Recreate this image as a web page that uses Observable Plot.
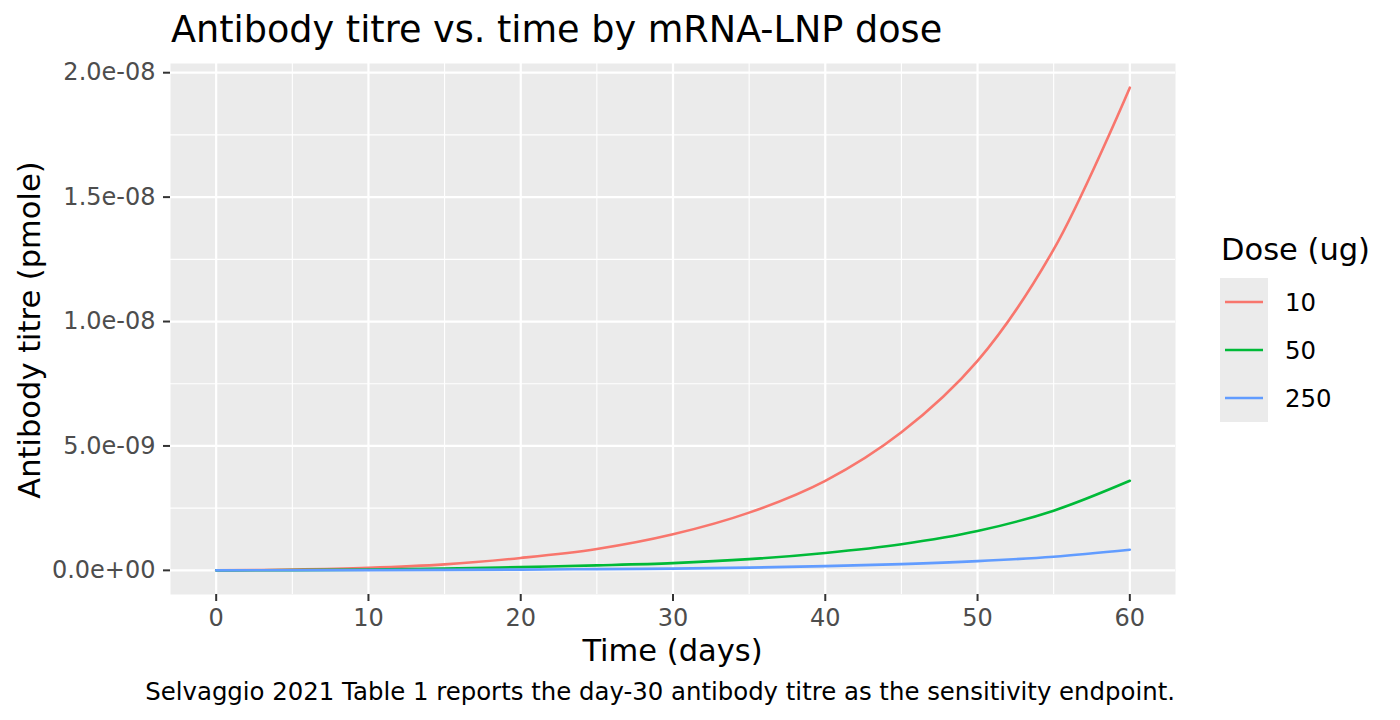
<!DOCTYPE html>
<html><head><meta charset="utf-8">
<script src="https://cdn.jsdelivr.net/npm/d3@7"></script>
<script src="https://cdn.jsdelivr.net/npm/@observablehq/plot@0.6"></script>
<style>
body{margin:0;background:#fff;font-family:"DejaVu Sans",sans-serif}
#chart{width:1400px;height:720px}
</style>
</head><body><div id="chart"></div>
<script>
// ---- data ----
const days = [0, 5, 10, 15, 20, 25, 30, 35, 40, 45, 50, 55, 60];
const doses = ["10", "50", "250"];
const titre10  = [0, 0.03e-9, 0.10e-9, 0.24e-9, 0.50e-9, 0.86e-9, 1.45e-9, 2.32e-9, 3.60e-9, 5.55e-9, 8.42e-9, 12.9e-9, 19.4e-9];
const titre50  = [0, 0.01e-9, 0.03e-9, 0.07e-9, 0.13e-9, 0.20e-9, 0.29e-9, 0.45e-9, 0.70e-9, 1.05e-9, 1.58e-9, 2.40e-9, 3.60e-9];
const titre250 = [0, 0.004e-9, 0.01e-9, 0.02e-9, 0.03e-9, 0.05e-9, 0.07e-9, 0.11e-9, 0.17e-9, 0.25e-9, 0.37e-9, 0.55e-9, 0.83e-9];
const doseColors = ["#F8766D", "#00BA38", "#619CFF"];
const xMajor = [0, 10, 20, 30, 40, 50, 60];
const xMinor = [5, 15, 25, 35, 45, 55];
const yMajor = [0, 5e-9, 1e-8, 1.5e-8, 2e-8];
const yMinor = [2.5e-9, 7.5e-9, 1.25e-8, 1.75e-8];
const titleText = "Antibody titre vs. time by mRNA-LNP dose";
const xTitle = "Time (days)";
const yTitle = "Antibody titre (pmole)";
const legendTitle = "Dose (ug)";
const captionText = "Selvaggio 2021 Table 1 reports the day-30 antibody titre as the sensitivity endpoint.";

// ---- table ----
const series = [titre10, titre50, titre250];
const rows = [];
doses.forEach((d, i) => days.forEach((t, j) => rows.push({dose: d, day: t, titre: series[i][j]})));

const allY = rows.map(r => r.titre);
const yLo = d3.min(allY), yHi = d3.max(allY), yPad = (yHi - yLo) * 0.05;
const xLo = d3.min(days), xHi = d3.max(days), xPad = (xHi - xLo) * 0.05;

const fmtE = v => {
  if (v === 0) return "0.0e+00";
  return v.toExponential(1).replace(/e([+-])(\d+)$/, (m, s, e) => "e" + s + e.padStart(2, "0"));
};

const plot = Plot.plot({
  width: 1400, height: 720,
  marginTop: 63, marginRight: 225, marginBottom: 126, marginLeft: 170,
  style: {fontFamily: "DejaVu Sans", fontSize: "24px", background: "white", overflow: "visible"},
  x: {domain: [xLo - xPad, xHi + xPad]},
  y: {domain: [yLo - yPad, yHi + yPad]},
  color: {domain: doses, range: doseColors},
  marks: [
    Plot.frame({fill: "#EBEBEB", stroke: null}),
    Plot.gridX(xMinor, {stroke: "white", strokeOpacity: 1, strokeWidth: 1.1}),
    Plot.gridY(yMinor, {stroke: "white", strokeOpacity: 1, strokeWidth: 1.1}),
    Plot.gridX(xMajor, {stroke: "white", strokeOpacity: 1, strokeWidth: 2.2}),
    Plot.gridY(yMajor, {stroke: "white", strokeOpacity: 1, strokeWidth: 2.2}),
    Plot.axisX(xMajor, {tickSize: 7, tickPadding: 7.5, stroke: "#333333", strokeWidth: 2, fill: "#4D4D4D", label: null, tickFormat: d => String(d), fontSize: 24}),
    Plot.axisY(yMajor, {tickSize: 7, tickPadding: 8, stroke: "#333333", strokeWidth: 2, fill: "#4D4D4D", label: null, tickFormat: fmtE, fontSize: 24}),
    Plot.line(rows, {x: "day", y: "titre", z: "dose", stroke: "dose", strokeWidth: 2.6, curve: "catmull-rom"})
  ]
});
document.getElementById("chart").appendChild(plot);

// ---- titles, caption, legend ----
const svg = d3.select(plot);
const txt = (x, y, s, size, anchor, fill) => svg.append("text")
  .attr("x", x).attr("y", y).attr("font-size", size).attr("text-anchor", anchor || "start")
  .attr("fill", fill || "black").attr("font-family", "DejaVu Sans").text(s);

txt(171, 41.5, titleText, 36.6);
txt(672.5, 661, xTitle, 30.5, "middle");
svg.append("text").attr("transform", "translate(40,330) rotate(-90)")
  .attr("font-size", 30.5).attr("text-anchor", "middle").attr("font-family", "DejaVu Sans").attr("fill", "black").text(yTitle);
txt(1175, 700, captionText, 24.4, "end");

const cs = plot.scale("color");
txt(1221, 260, legendTitle, 30.5);
doses.forEach((d, i) => {
  const cy = 302 + i * 48;
  svg.append("rect").attr("x", 1220).attr("y", cy - 24).attr("width", 48).attr("height", 48).attr("fill", "#EBEBEB");
  svg.append("line").attr("x1", 1225).attr("x2", 1263).attr("y1", cy).attr("y2", cy)
    .attr("stroke", cs.apply(d)).attr("stroke-width", 2.6);
  txt(1285, cy + 8.5, d, 24.4);
});
</script>
</body></html>
